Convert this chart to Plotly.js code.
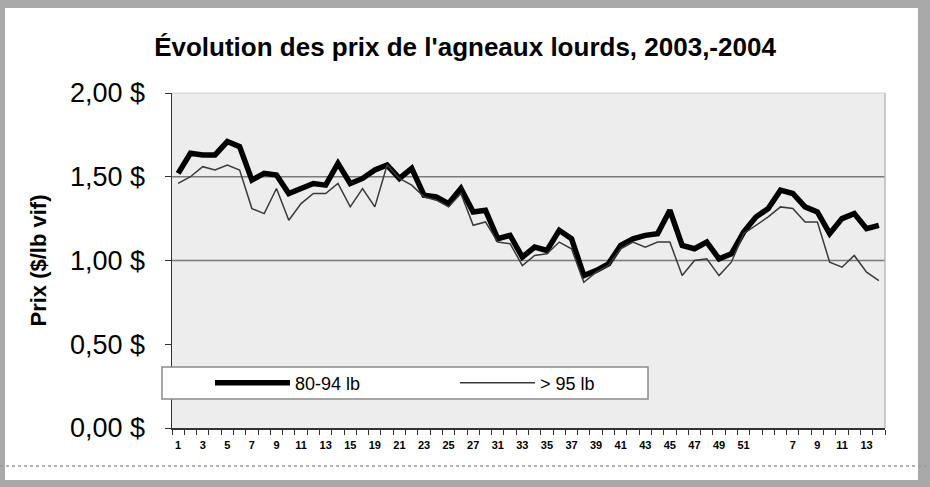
<!DOCTYPE html>
<html>
<head>
<meta charset="utf-8">
<script src="https://cdn.plot.ly/plotly-3.0.1.min.js"></script>
<style>
  html, body { margin: 0; padding: 0; width: 930px; height: 487px; overflow: hidden; background: #a9a9a9; }
  #panel { position: absolute; left: 5px; top: 8px; width: 913px; height: 472px; background: #ffffff; }
  #chart { position: absolute; left: 0; top: 0; width: 930px; height: 487px; }
</style>
</head>
<body>
<div id="panel"></div>
<div id="chart"></div>
<script>
// Week categories (2003 then 2004)
const categories = [
  "2003-1","2003-2","2003-3","2003-4","2003-5","2003-6","2003-7","2003-8","2003-9","2003-10",
  "2003-11","2003-12","2003-13","2003-14","2003-15","2003-17","2003-19","2003-20","2003-21","2003-22",
  "2003-23","2003-24","2003-25","2003-26","2003-27","2003-29","2003-31","2003-32","2003-33","2003-34",
  "2003-35","2003-36","2003-37","2003-38","2003-39","2003-40","2003-41","2003-42","2003-43","2003-44",
  "2003-45","2003-46","2003-47","2003-48","2003-49","2003-50","2003-51","2003-52",
  "2004-5","2004-6","2004-7","2004-8","2004-9","2004-10","2004-11","2004-12","2004-13","2004-14"
];
// Tick labels shown under the axis (every other category)
const tickLabels = [
  "1","","3","","5","","7","","9","",
  "11","","13","","15","","19","","21","",
  "23","","25","","27","","31","","33","",
  "35","","37","","39","","41","","43","",
  "45","","47","","49","","51","",
  "","","7","","9","","11","","13",""
];
// Prix ($/lb vif)
const prix80_94 = [
  1.52,1.64,1.63,1.63,1.71,1.68,1.48,1.52,1.51,1.40,
  1.43,1.46,1.45,1.58,1.46,1.49,1.54,1.57,1.49,1.55,
  1.39,1.38,1.34,1.43,1.29,1.30,1.13,1.15,1.02,1.08,
  1.06,1.18,1.13,0.91,0.94,0.98,1.09,1.13,1.15,1.16,
  1.30,1.09,1.07,1.11,1.01,1.04,1.17,1.26,1.31,1.42,
  1.40,1.32,1.29,1.16,1.25,1.28,1.19,1.21
];
const prix95plus = [
  1.46,1.50,1.56,1.54,1.57,1.54,1.31,1.28,1.43,1.24,
  1.34,1.40,1.40,1.46,1.32,1.43,1.32,1.57,1.49,1.45,
  1.38,1.36,1.32,1.40,1.21,1.23,1.11,1.10,0.97,1.03,
  1.04,1.11,1.07,0.87,0.93,0.97,1.07,1.11,1.08,1.11,
  1.11,0.91,1.00,1.01,0.91,0.99,1.16,1.21,1.26,1.32,
  1.31,1.23,1.23,0.99,0.96,1.03,0.93,0.88
];
const yTickVals = [0, 0.5, 1, 1.5, 2];
const yTickText = ["0,00 $", "0,50 $", "1,00 $", "1,50 $", "2,00 $"];
const seriesNames = ["80-94 lb", "> 95 lb"];

const W = 930, H = 487;
const M = { l: 172, r: 45, t: 93, b: 59 };
const pw = W - M.l - M.r, ph = H - M.t - M.b;
const px = v => (v - M.l) / pw;         // page x -> paper fraction
const py = v => (H - M.b - v) / ph;     // page y -> paper fraction

const traces = [
  { x: categories, y: prix80_94, name: seriesNames[0], type: "scatter", mode: "lines",
    line: { color: "#000000", width: 5.5 } },
  { x: categories, y: prix95plus, name: seriesNames[1], type: "scatter", mode: "lines",
    line: { color: "#3a3a3a", width: 1.5 } }
];

const layout = {
  width: W, height: H,
  margin: M,
  paper_bgcolor: "rgba(0,0,0,0)",
  plot_bgcolor: "#ededed",
  font: { family: "Liberation Sans, Arial, sans-serif", color: "#000" },
  title: {
    text: "<b>Évolution des prix de l'agneaux lourds, 2003,-2004</b>",
    xref: "container", x: 0.5, xanchor: "center",
    yref: "container", y: 1 - 47 / H, yanchor: "middle",
    font: { family: "Liberation Sans, Arial, sans-serif", size: 26, color: "#000" }
  },
  xaxis: {
    type: "category",
    range: [-0.5, categories.length - 0.5],
    tickmode: "array", tickvals: categories, ticktext: tickLabels,
    tickson: "boundaries",
    ticks: "outside", ticklen: 5, tickcolor: "#333", tickwidth: 1,
    tickfont: { size: 11, color: "#000", weight: "bold" },
    ticklabelstandoff: 6,
    tickangle: 0,
    showline: true, linecolor: "#333", linewidth: 1.5,
    showgrid: false, zeroline: false, fixedrange: true
  },
  yaxis: {
    range: [0, 2],
    tickmode: "array", tickvals: yTickVals, ticktext: yTickText,
    ticks: "outside", ticklen: 6, tickcolor: "#333",
    tickfont: { size: 27, color: "#000" },
    ticklabelstandoff: 14,
    showline: true, linecolor: "#333", linewidth: 1.5,
    showgrid: false, zeroline: false,
    title: { text: "<b>Prix ($/lb vif)</b>", font: { size: 22, color: "#000" }, standoff: 17 }
  },
  legend: {
    orientation: "h",
    x: px(210), xanchor: "left",
    y: py(383), yanchor: "middle",
    bgcolor: "rgba(0,0,0,0)", borderwidth: 0,
    font: { size: 18, color: "#000" },
    itemwidth: 75,
    entrywidth: 155, entrywidthmode: "pixels",
    traceorder: "normal"
  },
  shapes: [
    // horizontal reference lines at 1,00 $ and 1,50 $
    { type: "line", xref: "paper", yref: "y", x0: 0, x1: 1, y0: 1, y1: 1, line: { color: "#7a7a7a", width: 1.5 }, layer: "below" },
    { type: "line", xref: "paper", yref: "y", x0: 0, x1: 1, y0: 1.5, y1: 1.5, line: { color: "#7a7a7a", width: 1.5 }, layer: "below" },
    // plot frame (right/top)
    { type: "line", xref: "paper", yref: "paper", x0: 1, x1: 1, y0: 0, y1: 1, line: { color: "#bbbbbb", width: 1.5 } },
    { type: "line", xref: "paper", yref: "paper", x0: 0, x1: 1, y0: 1, y1: 1, line: { color: "#d0d0d0", width: 1 } },
    // legend box
    { type: "rect", xref: "paper", yref: "paper", x0: px(162), x1: px(648), y0: py(399), y1: py(367),
      fillcolor: "#ffffff", line: { color: "#8a8a8a", width: 1.5 }, layer: "above" },
    // bottom separator
    { type: "line", xref: "paper", yref: "paper", x0: px(0), x1: px(930), y0: py(466), y1: py(466),
      line: { color: "#9a9a9a", width: 1.5, dash: "dot" } }
  ]
};

Plotly.newPlot("chart", traces, layout, { displayModeBar: false, staticPlot: true });
</script>
</body>
</html>
